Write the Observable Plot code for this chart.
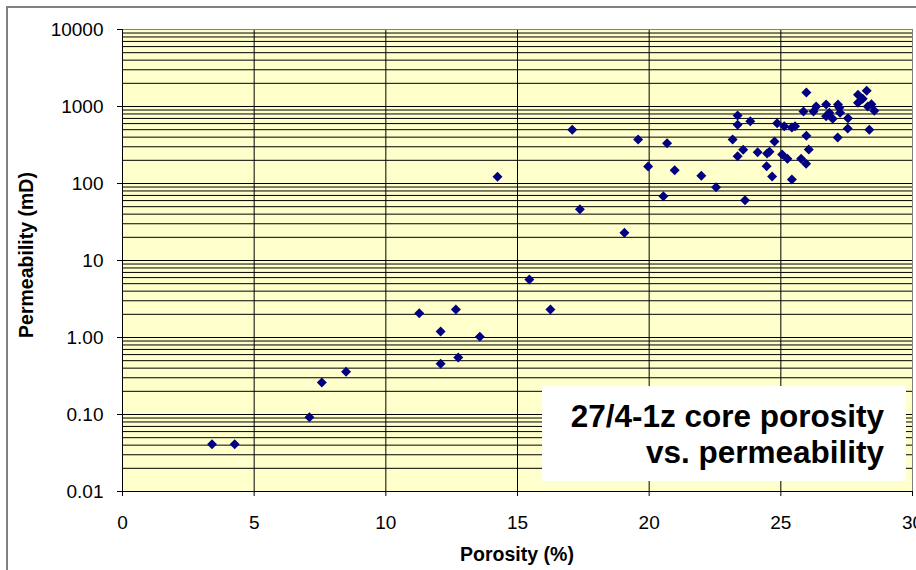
<!DOCTYPE html>
<html><head><meta charset="utf-8">
<script src="https://cdn.jsdelivr.net/npm/d3@7"></script>
<script src="https://cdn.jsdelivr.net/npm/@observablehq/plot@0.6"></script>
<style>
html,body{margin:0;padding:0;background:#fff;}
#chart svg{display:block;}
</style></head><body><div id="chart"></div>
<script>
const porosity = [3.40,4.26,7.10,7.57,8.49,11.27,12.08,12.08,12.66,12.75,13.57,14.24,15.45,16.25,17.08,17.37,19.06,19.58,19.96,20.54,20.68,20.97,21.98,22.54,23.17,23.36,23.36,23.36,23.57,23.64,23.84,24.12,24.46,24.48,24.57,24.67,24.76,24.86,25.05,25.13,25.25,25.42,25.42,25.54,25.77,25.86,25.96,25.97,25.97,26.06,26.24,26.34,26.72,26.72,26.84,26.97,27.16,27.17,27.22,27.25,27.54,27.55,27.93,27.93,28.11,28.26,28.30,28.36,28.44,28.55];
const permeability = [0.041,0.041,0.092,0.26,0.36,2.07,1.20,0.455,2.31,0.55,1.02,122,5.67,2.31,498,46.4,23,373,166,68.4,334,149,126,89.6,373,764,578,226,274,60.7,645,255,168,245,258,123,351,606,238,555,209,533,113,555,209,861,180,1520,416,277,861,1000,1062,749,828,692,395,1062,961,828,518,705,1419,1117,1259,1600,1000,498,1072,880];
const xTicks = [0,5,10,15,20,25,30];
const yTicks = [0.01,0.1,1,10,100,1000,10000];
const yTickLabels = ["0.01","0.10","1.00","10","100","1000","10000"];
const titleLines = ["27/4-1z core porosity","vs. permeability"];
const xTitle = "Porosity (%)";
const yTitle = "Permeability (mD)";

const data = porosity.map((p,i)=>({porosity:p, permeability:permeability[i]}));
const minorTicks = d3.scaleLog().domain([0.01,10000]).ticks();
const font = "'Liberation Sans', Arial, sans-serif";
const W = 916, H = 570;

const chart = Plot.plot({
  width: W, height: H,
  marginLeft: 122, marginRight: 4, marginTop: 29, marginBottom: 79,
  style: {fontFamily: font, fontSize: "19px", background: "#fff", color: "#000"},
  x: {domain: [0,30]},
  y: {type: "log", domain: [0.01,10000]},
  marks: [
    Plot.frame({fill: "#FFFFCC", stroke: "none"}),
    Plot.ruleY(minorTicks, {stroke: "#000", strokeOpacity: 1, strokeWidth: 1}),
    Plot.ruleX(xTicks.filter(d => d > 0 && d < 30), {stroke: "#000", strokeOpacity: 1}),
    Plot.frame({stroke: "#808080", strokeWidth: 1}),
    Plot.ruleX([0], {stroke: "#000"}),
    Plot.ruleY([0.01], {stroke: "#000"}),
    Plot.axisX({ticks: xTicks, tickSize: 5, tickPadding: 19, label: null, stroke: "#000", fill: "#000", fontSize: 19}),
    Plot.axisY({ticks: yTicks, tickSize: 5, tickPadding: 14, label: null, stroke: "#000", fill: "#000", fontSize: 19,
      tickFormat: d => yTickLabels[yTicks.indexOf(d)]}),
    Plot.dot(data, {x: "porosity", y: "permeability", symbol: "diamond2", r: 4.5, fill: "#000080", stroke: "none"})
  ]
});

const svg = d3.select(chart);
svg.insert("rect", ":first-child")
  .attr("x", 7).attr("y", 7).attr("width", W + 10).attr("height", H + 10)
  .attr("fill", "none").attr("stroke", "#808080").attr("stroke-width", 2);

// y title
svg.append("text")
  .attr("transform", "translate(33,255) rotate(-90)")
  .attr("text-anchor", "middle")
  .attr("font-family", font).attr("font-weight", "bold").attr("font-size", 19.5)
  .attr("fill", "#000").text(yTitle);
// x title
svg.append("text")
  .attr("x", 517).attr("y", 561)
  .attr("text-anchor", "middle")
  .attr("font-family", font).attr("font-weight", "bold").attr("font-size", 19.5)
  .attr("fill", "#000").text(xTitle);

// annotation box
const g = svg.append("g");
g.append("rect").attr("x", 542).attr("y", 386).attr("width", 364).attr("height", 95).attr("fill", "#fff");
titleLines.forEach((t, i) => {
  g.append("text")
    .attr("x", 884).attr("y", 427 + i * 36)
    .attr("text-anchor", "end")
    .attr("font-family", font).attr("font-weight", "bold").attr("font-size", 31.5)
    .attr("fill", "#000").text(t);
});

document.getElementById("chart").appendChild(chart);
</script>
</body></html>
